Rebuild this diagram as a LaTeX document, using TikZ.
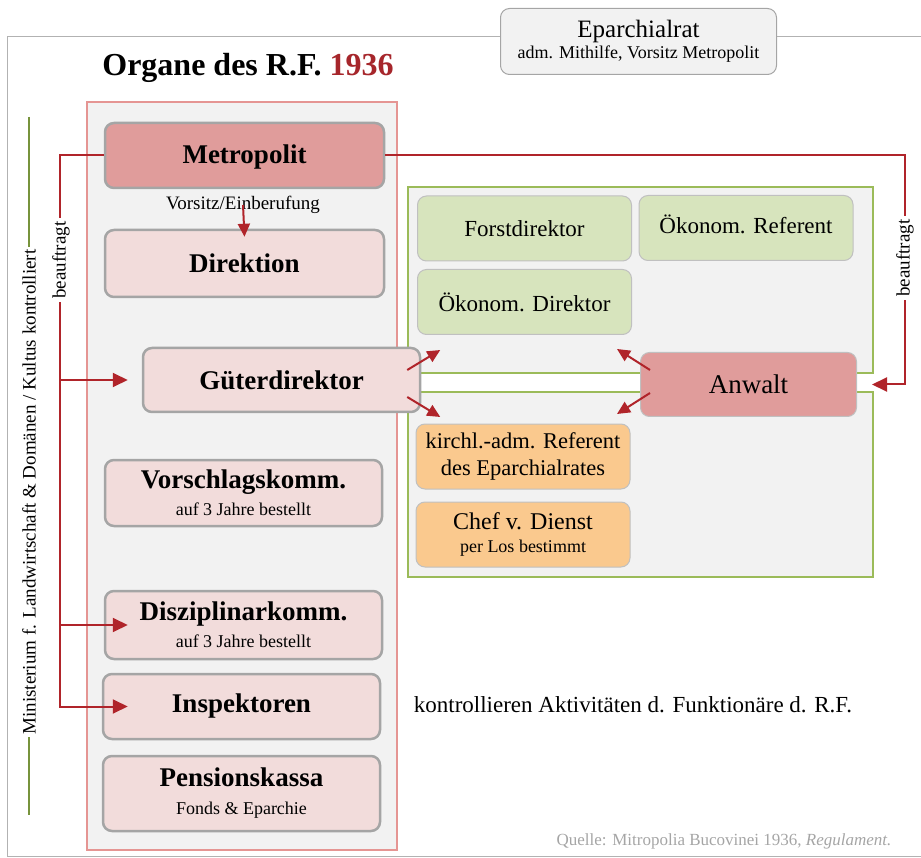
\documentclass[tikz,border=0pt]{standalone}
\usepackage{fontspec}
\setmainfont{Liberation Serif}
\usetikzlibrary{arrows.meta,calc}

\definecolor{rfred}{HTML}{B0242A}
\definecolor{rftitle}{HTML}{A6262B}
\definecolor{rfpink}{HTML}{F2DCDB}
\definecolor{rfrose}{HTML}{E09C9B}
\definecolor{rfgray}{HTML}{A5A5A5}
\definecolor{rfpanel}{HTML}{F2F2F2}
\definecolor{rfgreen}{HTML}{D7E4BD}
\definecolor{rfolive}{HTML}{9BBB59}
\definecolor{rfdark}{HTML}{77933C}
\definecolor{rforange}{HTML}{FAC98E}
\definecolor{rfframe}{HTML}{E59593}

\newcommand{\rfsub}[1]{{\fontsize{18}{20}\selectfont\mdseries #1}}

\tikzset{
  organ/.style={draw=rfgray, line width=2.5pt, rounded corners=9pt, fill=rfpink,
    minimum width=277pt, minimum height=65pt, align=center, inner sep=2pt,
    font=\fontsize{27}{29}\selectfont\bfseries},
  fach/.style={draw=rfgray!70, line width=1pt, rounded corners=9pt, fill=rfgreen,
    minimum width=214pt, minimum height=65pt, align=center, inner sep=2pt,
    font=\fontsize{23}{27}\selectfont},
  kirch/.style={fach, fill=rforange},
  note/.style={font=\fontsize{19}{21}\selectfont},
  turned/.style={rotate=90, fill=white, inner sep=3pt, font=\fontsize{19}{21}\selectfont},
  rline/.style={draw=rfred, line width=2pt},
  link/.style={rline, -{Triangle[length=15pt,width=14pt]}},
  slink/.style={rline, -{Triangle[length=13pt,width=12pt]}}
}

\begin{document}
\begin{tikzpicture}[x=1pt,y=-1pt]
	\useasboundingbox (0,0) rectangle (921,858);
	
	% FRAME AND TITLE
	\draw[gray!60, line width=1pt] (921,37) -- (7,37) -- (7,856) -- (921,856);
	\node[font=\fontsize{32}{34}\selectfont\bfseries] (title) at (248,68) {Organe des R.F. \textcolor{rftitle}{1936}};
	\node[draw=rfgray, fill=rfpanel, rounded corners=9pt, line width=1pt, minimum width=276pt, minimum height=66pt, align=center, inner sep=2pt] (eparch) at (638.5,41.5)
		{{\fontsize{25}{28}\selectfont Eparchialrat}\\[2pt]{\fontsize{18}{20}\selectfont adm. Mithilfe, Vorsitz Metropolit}};
	
	% BACKGROUND AREAS
	\draw[rfframe, fill=rfpanel, line width=2pt] (87,102) rectangle (397,850);
	\draw[rfolive, fill=rfpanel, line width=1.5pt] (408,187) rectangle (873,373);
	\draw[rfolive, fill=rfpanel, line width=1.5pt] (408,392) rectangle (873,577);
	
	% MINISTERIUM LINE
	\coordinate (mtop) at (29,117);
	\coordinate (mbot) at (29,815);
	\draw[rfdark, line width=1.5pt] (mtop) -- (mbot);
	\node[turned] (minist) at (29,492) {Ministerium f. Landwirtschaft \& Domänen / Kultus kontrolliert};
	
	% LEFT COLUMN
	\node[organ, fill=rfrose, minimum width=279pt, text depth=3pt] (metro) at (244.5,155.5) {Metropolit};
	\node[note] (vorsitz) at (243,205) {Vorsitz/Einberufung};
	\node[organ, minimum width=279pt, minimum height=67pt] (direkt) at (244.5,263.5) {Direktion};
	\node[organ, minimum height=64pt] (gueter) at (281.5,380) {Güterdirektor};
	\node[organ, minimum height=66pt] (vorschlag) at (243.5,493) {Vorschlagskomm.\\[-2pt]\rfsub{auf 3 Jahre bestellt}};
	\node[organ, minimum height=68pt] (diszi) at (243.5,625) {Disziplinarkomm.\\[-2pt]\rfsub{auf 3 Jahre bestellt}};
	\node[organ] (inspekt) at (241.5,706.5) {Inspektoren};
	\node[organ, minimum height=75pt] (pension) at (241.5,793.5) {Pensionskassa\\[-1pt]\rfsub{Fonds \& Eparchie}};
	
	% RIGHT PANELS
	\node[fach] (forst) at (524.5,228.5) {Forstdirektor};
	\node[fach, text depth=8pt] (oekref) at (746,228) {Ökonom. Referent};
	\node[fach] (oekdir) at (524.5,302) {Ökonom. Direktor};
	\node[kirch, font=\fontsize{22.5}{27}\selectfont] (kirchl) at (523,456.5) {kirchl.-adm. Referent\\des Eparchialrates};
	\node[kirch, font=\fontsize{24}{26}\selectfont] (chef) at (523,534.5) {Chef v. Dienst\\[-3pt]\rfsub{per Los bestimmt}};
	\node[fach, fill=rfrose, minimum width=216pt, minimum height=64pt, font=\fontsize{27}{29}\selectfont] (anwalt) at (748.5,384.5) {Anwalt};
	
	% RED CONNECTIONS
	\coordinate (mleft) at (60,155.5);
	\coordinate (mright) at (905,155.5);
	\draw[link] (metro.west) -- (mleft) |- ([shift={(26,0)}]inspekt.west);
	\draw[link] (mleft |- gueter.west) -- ([shift={(-14,0)}]gueter.west);
	\draw[link] (mleft |- diszi.west) -- ([shift={(24,0)}]diszi.west);
	\draw[link] (metro.east) -- (mright) |- ([shift={(15,0)}]anwalt.east);
	\draw[slink] (vorsitz.center) -- ([shift={(0,8)}]direkt.north);
	\node[turned] (auftrL) at (61,260) {beauftragt};
	\node[turned] (auftrR) at (905,258) {beauftragt};
	
	\draw[slink] ([shift={(-14,-10)}]gueter.east) -- ++(33,-20);
	\draw[slink] ([shift={(-14,17)}]gueter.east) -- ++(33,20);
	\draw[slink] ([shift={(10,-14.5)}]anwalt.west) -- ++(-33,-21);
	\draw[slink] ([shift={(10,8.5)}]anwalt.west) -- ++(-33,21);
	
	% NOTES
	\node[font=\fontsize{23}{25}\selectfont] (kontr) at (633,705) {kontrollieren Aktivitäten d. Funktionäre d. R.F.};
	\node[text=rfgray, font=\fontsize{17}{19}\selectfont] (quelle) at (724,841) {Quelle: Mitropolia Bucovinei 1936, \textit{Regulament.}};
\end{tikzpicture}
\end{document}
